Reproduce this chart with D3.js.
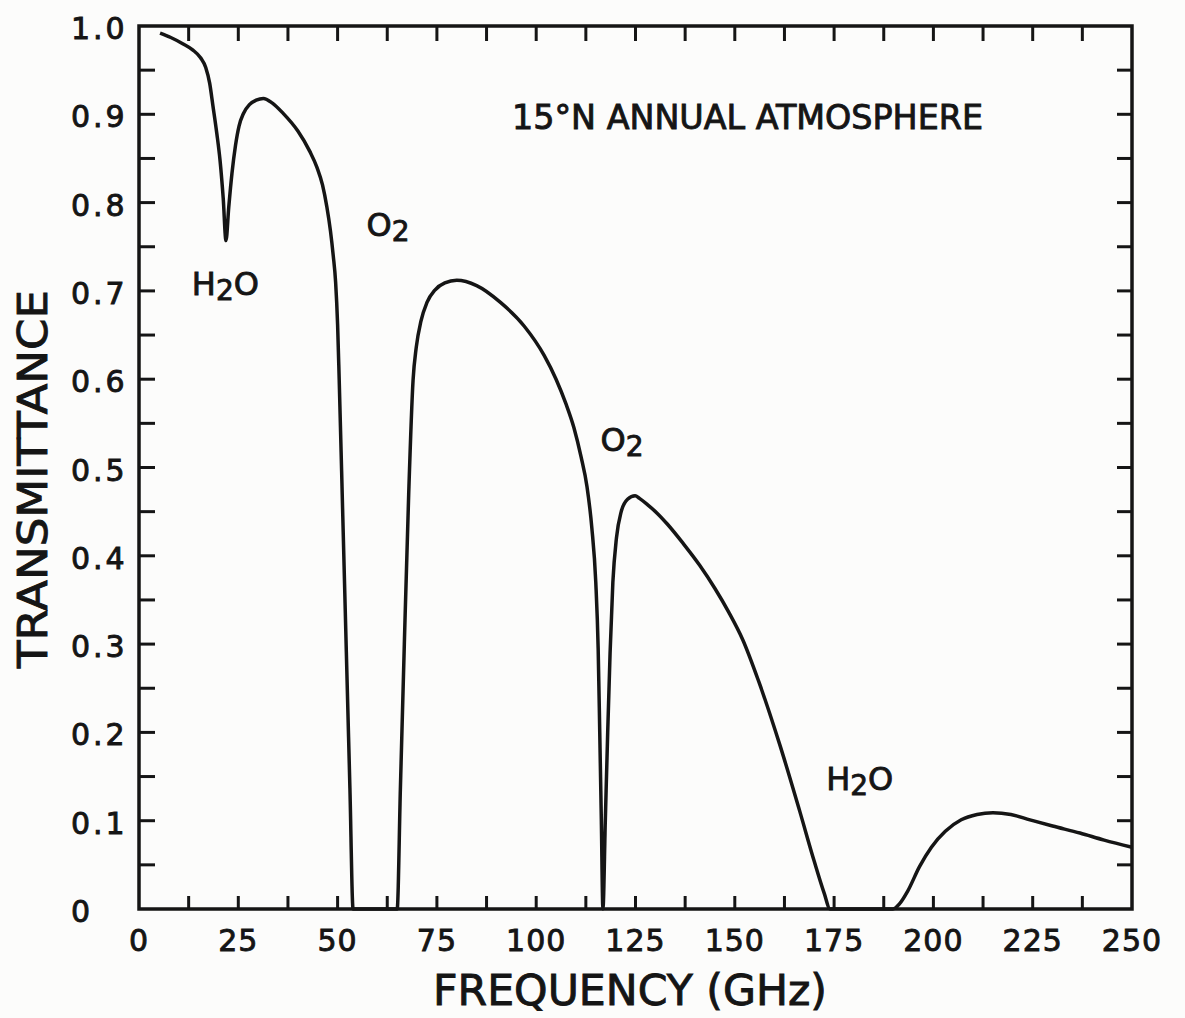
<!DOCTYPE html>
<html>
<head>
<meta charset="utf-8">
<script src="https://cdn.jsdelivr.net/npm/d3@7"></script>
<style>
	body { margin: 0; background: #fcfcfb; }
	svg text { font-family: "DejaVu Sans", sans-serif; fill: #151515; stroke: #151515; stroke-width: 0.9px; }
</style>
</head>
<body>
<div id="chart"></div>
<script>
// Values (GHz, transmittance)
var frequency = [5.3, 8, 11, 13.5, 15.5, 16.8, 17.8, 18.6, 19.6, 20.4, 21.2, 21.9, 22.6, 23.4, 24.3, 25.2, 26.3, 27.8, 29.5, 31.3, 33.5, 36.3, 40, 43, 44.8, 46.2, 47.3, 48.2, 48.9, 49.5, 50.0, 50.4, 51.3, 52.2, 53.1, 53.9,
	65.0, 65.8, 66.8, 67.9, 69.0, 69.8, 71, 72.5, 74.5, 77, 80, 85, 91, 97, 102, 105, 107.5, 109.5, 111.3, 112.8, 114.0, 115.0, 115.6, 116.0, 116.4, 116.8,
	117.4, 118.0, 118.6, 119.3, 120.2, 121.4, 123, 124.9, 126, 128, 130.5, 133, 137, 141.2, 145, 148.5, 152, 156, 161.4, 166.4, 170, 172.5, 174.0,
	189.8, 191.5, 193.5, 196.5, 199.5, 203, 207, 211, 215, 219.5, 224.3, 230, 236.9, 243, 250];
var transmittance = [0.992, 0.987, 0.980, 0.973, 0.964, 0.953, 0.935, 0.910, 0.878, 0.848, 0.805, 0.757, 0.795, 0.833, 0.865, 0.887, 0.901, 0.911, 0.916, 0.918, 0.913, 0.901, 0.881, 0.858, 0.840, 0.820, 0.795, 0.768, 0.740, 0.710, 0.662, 0.600, 0.446, 0.291, 0.137, 0,
	0, 0.135, 0.300, 0.470, 0.599, 0.636, 0.666, 0.687, 0.701, 0.709, 0.712, 0.706, 0.687, 0.660, 0.627, 0.600, 0.572, 0.545, 0.512, 0.478, 0.432, 0.370, 0.295, 0.200, 0.100, 0,
	0.100, 0.200, 0.290, 0.370, 0.420, 0.450, 0.464, 0.468, 0.465, 0.458, 0.448, 0.436, 0.414, 0.389, 0.363, 0.336, 0.305, 0.258, 0.185, 0.110, 0.054, 0.018, 0,
	0, 0.006, 0.020, 0.048, 0.070, 0.088, 0.101, 0.107, 0.109, 0.107, 0.101, 0.094, 0.086, 0.078, 0.070];
var xTickLabels = [0, 25, 50, 75, 100, 125, 150, 175, 200, 225, 250];
var yTickLabels = ["0", "0.1", "0.2", "0.3", "0.4", "0.5", "0.6", "0.7", "0.8", "0.9", "1.0"];
var annotations = [
	{ f: 13.3, t: 0.695, main: "H", sub: "2", tail: "O" },
	{ f: 57.3, t: 0.762, main: "O", sub: "2", tail: "" },
	{ f: 116.2, t: 0.519, main: "O", sub: "2", tail: "" },
	{ f: 173.0, t: 0.135, main: "H", sub: "2", tail: "O" }
];

var width = 1185, height = 1018;
var plot = { left: 139, top: 26, right: 1132, bottom: 909 };
var ink = "#151515";

var svg = d3.select("#chart").append("svg")
	.attr("width", width)
	.attr("height", height);

var x = d3.scaleLinear().domain([0, 250]).range([plot.left, plot.right]);
var y = d3.scaleLinear().domain([0, 1]).range([plot.bottom, plot.top]);

/*
 * Tick marks (inward, all four sides)
 */
var tickLen = 15;
var xMinor = d3.range(12.5, 250, 12.5);
var yMinor = d3.range(1, 20).map(function(i){ return i * 0.05; });

var ticks = svg.append("g")
	.attr("stroke", ink)
	.attr("stroke-width", 3);
ticks.selectAll(".xb").data(xMinor).enter().append("line")
	.attr("x1", function(d){ return x(d); }).attr("x2", function(d){ return x(d); })
	.attr("y1", plot.bottom).attr("y2", plot.bottom - tickLen + 2);
ticks.selectAll(".xt").data(xMinor).enter().append("line")
	.attr("x1", function(d){ return x(d); }).attr("x2", function(d){ return x(d); })
	.attr("y1", plot.top).attr("y2", plot.top + tickLen);
ticks.selectAll(".yl").data(yMinor).enter().append("line")
	.attr("y1", function(d){ return y(d); }).attr("y2", function(d){ return y(d); })
	.attr("x1", plot.left).attr("x2", plot.left + tickLen + 1);
ticks.selectAll(".yr").data(yMinor).enter().append("line")
	.attr("y1", function(d){ return y(d); }).attr("y2", function(d){ return y(d); })
	.attr("x1", plot.right).attr("x2", plot.right - tickLen);

// Frame
svg.append("rect")
	.attr("x", plot.left).attr("y", plot.top)
	.attr("width", plot.right - plot.left)
	.attr("height", plot.bottom - plot.top)
	.attr("fill", "none")
	.attr("stroke", ink)
	.attr("stroke-width", 3.5);

/*
 * Tick labels
 */
svg.append("g").selectAll("text").data(xTickLabels).enter().append("text")
	.attr("x", function(d){ return x(d); })
	.attr("y", 951)
	.attr("text-anchor", "middle")
	.style("font-size", "30px")
	.style("letter-spacing", "1px")
	.text(function(d){ return d; });

svg.append("g").selectAll("text").data(yTickLabels).enter().append("text")
	.attr("x", 71)
	.attr("y", function(d){ return y(+d) + 13; })
	.attr("text-anchor", "start")
	.style("font-size", "30px")
	.style("letter-spacing", "3px")
	.text(function(d){ return d; });

/*
 * Axis titles
 */
svg.append("text")
	.attr("x", 630).attr("y", 1005)
	.attr("text-anchor", "middle")
	.attr("textLength", 394)
	.attr("lengthAdjust", "spacingAndGlyphs")
	.style("font-size", "42px")
	.text("FREQUENCY (GHz)");

svg.append("text")
	.attr("transform", "translate(47,479) rotate(-90)")
	.attr("text-anchor", "middle")
	.attr("textLength", 378)
	.attr("lengthAdjust", "spacingAndGlyphs")
	.style("font-size", "41px")
	.text("TRANSMITTANCE");

svg.append("text")
	.attr("x", 512).attr("y", 129)
	.attr("textLength", 471)
	.attr("lengthAdjust", "spacingAndGlyphs")
	.style("font-size", "33px")
	.text("15°N ANNUAL ATMOSPHERE");

// Species labels with subscripts
annotations.forEach(function(a){
	var t = svg.append("text")
		.attr("x", x(a.f)).attr("y", y(a.t))
		.style("font-size", "32px");
	t.append("tspan").text(a.main);
	t.append("tspan").attr("dy", 5).style("font-size", "28px").text(a.sub);
	if(a.tail) t.append("tspan").attr("dy", -5).text(a.tail);
});

/*
 * Transmittance curve
 */
var points = frequency.map(function(f, i){ return [f, transmittance[i]]; });
var line = d3.line()
	.x(function(d){ return x(d[0]); })
	.y(function(d){ return y(d[1]); })
	.curve(d3.curveMonotoneX);

svg.append("path")
	.datum(points)
	.attr("d", line)
	.attr("fill", "none")
	.attr("stroke", ink)
	.attr("stroke-width", 3.5)
	.attr("stroke-linejoin", "round");
</script>
</body>
</html>
